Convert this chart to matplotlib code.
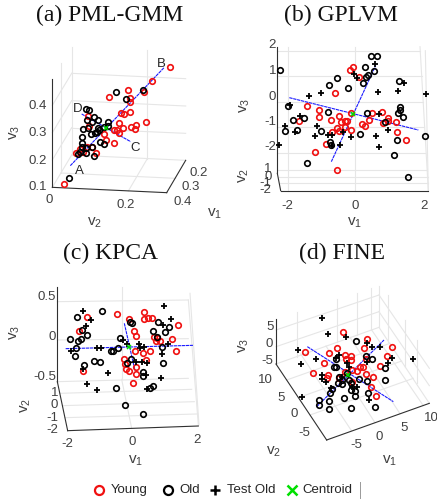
import matplotlib
matplotlib.use('Agg')
import matplotlib.pyplot as plt

plt.rcParams['font.family'] = ['Liberation Sans', 'DejaVu Sans']
plt.rcParams['mathtext.fontset'] = 'custom'
plt.rcParams['mathtext.rm'] = 'Liberation Sans'
plt.rcParams['mathtext.default'] = 'regular'

# all positions are view plane readings, in units of 1/3 pixel inside each panel
a_young = [(510,201),(457,244),(433,275),(383,270),(328,292),(391,295),(390,307),(389,337),(362,340),(372,342),(265,348),(439,367),(357,370),(409,376),(393,380),(405,387),(368,383),(352,390),(342,390),(357,398),(313,401),(317,419),(341,430),(228,460),(240,447),(262,440),(289,459),(267,378),(193,551),(250,455),(275,440)]
a_old = [(349,275),(430,270),(378,297),(258,327),(268,330),(281,351),(260,360),(295,360),(275,367),(323,366),(312,380),(323,378),(250,386),(265,385),(298,390),(290,397),(285,400),(272,402),(245,412),(245,430),(300,426),(311,433),(258,443),(275,442),(235,463),(258,458),(281,467),(208,533),(240,455),(247,440),(295,385)]
a_test = []
a_centroid = (318,385)
a_axes_blue = [[(211,497),(492,203)], [(245,342),(392,425)]]

b_young = [(398,200),(390,211),(417,232),(345,279),(262,318),(298,331),(297,352),(238,364),(333,361),(356,349),(364,366),(374,362),(381,364),(351,383),(374,380),(358,393),(335,396),(394,390),(393,340),(457,338),(487,336),(448,359),(425,373),(435,378),(489,370),(504,355),(504,363),(527,366),(530,396),(558,421),(318,433),(286,457),(352,509)]
b_old = [(181,211),(453,169),(471,169),(434,201),(461,214),(443,225),(437,232),(430,250),(351,235),(328,256),(385,265),(538,244),(205,317),(323,337),(220,360),(251,354),(195,394),(230,390),(304,394),(330,425),(332,436),(441,340),(540,320),(540,330),(533,338),(550,352),(495,367),(421,401),(531,420),(616,407),(523,465),(261,489),(563,532)]
b_test = [(465,191),(403,222),(410,235),(552,250),(535,274),(473,276),(617,283),(304,278),(266,287),(210,314),(240,348),(195,377),(224,397),(292,379),(285,407),(325,404),(337,405),(335,437),(361,434),(368,395),(394,412),(467,408),(477,441),(503,389),(476,343),(178,436)]
b_centroid = (400,341)
b_axes_blue = [[(208,293),(595,390)], [(334,485),(467,197)]]

c_young = [(262,230),(352,221),(387,237),(431,215),(431,236),(445,235),(457,235),(535,255),(401,272),(236,272),(408,287),(463,292),(467,303),(480,303),(517,297),(529,332),(405,334),(430,338),(449,334),(439,361),(372,356),(374,372),(378,386),(409,380),(388,393),(407,402),(398,429),(249,392),(470,295)]
c_old = [(307,212),(231,231),(246,270),(262,284),(244,296),(235,302),(211,297),(227,325),(225,348),(361,294),(333,333),(339,333),(354,324),(283,364),(300,365),(253,374),(396,249),(460,273),(496,276),(506,260),(475,245),(470,290),(485,320),(392,357),(489,369),(428,397),(429,409),(458,438),(449,443),(348,443),(376,494),(429,521),(391,247),(380,370)]
c_test = [(491,199),(249,214),(272,240),(258,257),(513,237),(490,256),(213,332),(290,323),(304,323),(370,300),(381,312),(417,312),(420,323),(432,321),(505,313),(485,342),(408,366),(425,365),(441,370),(325,400),(482,413),(438,405),(441,447),(260,431),(291,449),(250,386)]
c_centroid = (388,321)
c_axes_blue = [[(197,326),(580,316)], [(373,250),(405,392)]]

d_young = [(369,276),(442,296),(517,320),(432,325),(350,323),(328,338),(254,336),(375,345),(393,347),(379,358),(394,360),(437,358),(502,349),(312,369),(481,377),(420,382),(428,382),(411,392),(397,390),(375,395),(278,398),(323,404),(322,414),(358,415),(437,402),(458,411),(395,426),(453,441),(468,469)]
d_old = [(409,304),(437,348),(456,356),(347,358),(348,381),(343,380),(358,410),(380,398),(417,418),(440,423),(496,420),(494,384),(445,460),(404,453),(406,467),(393,451),(392,430),(372,473),(393,504),(464,502),(327,483),(327,506),(296,479),(298,496),(331,458),(337,448),(355,428),(365,420),(365,432),(388,420)]
d_test = [(307,234),(325,282),(378,290),(456,322),(480,322),(440,310),(233,331),(288,356),(243,372),(347,353),(356,345),(380,370),(388,380),(505,368),(515,355),(580,357),(305,405),(305,416),(318,426),(246,470),(332,445),(395,440),(410,440),(448,481),(365,410),(440,365)]
d_centroid = (385,405)
d_axes_blue = [[(262,320),(520,485)], [(290,500),(492,300)]]

# box edges and grid of each 3d view
a_dark = [[(157,237),(157,562)], [(157,562),(500,578)], [(500,578),(557,481)]]
a_grid = [[(215,140),(215,465)], [(183,190),(183,519)], [(442,150),(442,476)], [(157,562),(215,465)], [(215,465),(557,481)],
          [(215,220),(557,236)], [(215,302),(557,318)], [(215,385),(557,400)],
          [(157,480),(215,383)], [(157,398),(215,302)], [(157,316),(215,220)],
          [(385,573),(442,476)], [(183,519),(527,535)]]
b_dark = [[(172,140),(172,520)], [(172,520),(182,572)], [(182,572),(625,572)]]
b_grid = [[(172,152),(600,152)], [(172,228),(605,228)], [(172,305),(608,305)], [(172,382),(612,382)], [(172,458),(616,458)],
          [(203,140),(203,572)], [(405,140),(405,572)], [(600,140),(625,572)], [(616,152),(625,572)],
          [(175,510),(622,510)], [(177,530),(623,530)], [(180,550),(624,550)]]
c_dark = [[(172,140),(172,425)], [(172,425),(203,572)], [(203,572),(595,558)]]
c_grid = [[(172,185),(565,180)], [(172,300),(565,296)], [(172,425),(565,415)], [(365,140),(365,418)], [(570,160),(597,555)],
          [(565,180),(595,555)], [(180,460),(575,448)], [(188,497),(583,485)], [(195,533),(590,522)], [(365,418),(395,565)]]
d_dark = [[(168,238),(168,372)], [(168,372),(320,600)], [(320,600),(628,490)]]
d_grid = [[(168,372),(477,262)], [(477,138),(477,262)], [(477,262),(628,490)], [(477,165),(628,385)], [(477,215),(628,437)],
          [(230,215),(230,350)], [(350,178),(350,307)], [(412,160),(412,285)], [(453,145),(453,270)],
          [(168,270),(477,165)], [(168,320),(477,215)], [(200,420),(510,310)], [(235,473),(545,363)], [(270,525),(580,415)],
          [(395,573),(242,342)], [(465,548),(318,318)], [(540,521),(390,292)], [(610,497),(455,270)],
          [(505,165),(505,305)], [(555,240),(555,380)], [(590,300),(590,430)]]

a_ticks = [('0.4',142,318,'right'),('0.3',142,398,'right'),('0.2',142,482,'right'),('0.1',142,562,'right'),('0',148,600,'center'),('0.2',378,615,'center'),('0.2',595,520,'center'),('0.3',572,560,'center'),('0.4',548,605,'center')]
b_ticks = [('2',168,135,'right'),('1',168,212,'right'),('0',168,290,'right'),('-1',168,365,'right'),('-2',168,440,'right'),('1',155,507,'right'),('0',155,530,'right'),('-1',155,550,'right'),('-2',155,570,'right'),('-2',203,617,'center'),('0',405,617,'center'),('2',612,617,'center')]
c_ticks = [('0.5',168,170,'right'),('0',168,292,'right'),('-0.5',168,412,'right'),('1',175,460,'right'),('0',175,495,'right'),('-1',175,533,'right'),('-2',175,570,'right'),('-2',203,613,'center'),('0',396,607,'center'),('2',590,601,'center')]
d_ticks = [('5',160,262,'right'),('0',160,312,'right'),('-5',160,362,'right'),('10',137,420,'center'),('5',183,473,'center'),('0',222,523,'center'),('-5',252,578,'center'),('-5',408,615,'center'),('0',477,590,'center'),('5',551,563,'center'),('10',635,535,'center')]

a_labels = [('v$_1$',645,640,0),('v$_2$',285,668,0),('v$_3$',45,397,90)]
b_labels = [('v$_1$',405,668,0),('v$_2$',72,527,90),('v$_3$',75,315,90)]
c_labels = [('v$_1$',408,662,0),('v$_2$',78,497,90),('v$_3$',45,278,90)]
d_labels = [('v$_1$',510,662,0),('v$_2$',160,635,0),('v$_3$',72,315,90)]

W, H = 437, 504
panels = [
    dict(rect=(0,0,220,240), title='(a) PML-GMM', tpos=(330,47), young=a_young, old=a_old, test=a_test, cen=a_centroid, blue=a_axes_blue, dark=a_dark, grid=a_grid, ticks=a_ticks, labels=a_labels),
    dict(rect=(220,0,217,240), title='(b) GPLVM', tpos=(363,47), young=b_young, old=b_old, test=b_test, cen=b_centroid, blue=b_axes_blue, dark=b_dark, grid=b_grid, ticks=b_ticks, labels=b_labels),
    dict(rect=(0,240,220,264), title='(c) KPCA', tpos=(330,40), young=c_young, old=c_old, test=c_test, cen=c_centroid, blue=c_axes_blue, dark=c_dark, grid=c_grid, ticks=c_ticks, labels=c_labels),
    dict(rect=(220,240,217,264), title='(d) FINE', tpos=(365,40), young=d_young, old=d_old, test=d_test, cen=d_centroid, blue=d_axes_blue, dark=d_dark, grid=d_grid, ticks=d_ticks, labels=d_labels),
]

fig = plt.figure(figsize=(W/100, H/100), dpi=100)
axs = []
for p in panels:
    x, y, w, h = p['rect']
    ax = fig.add_axes([x/W, 1-(y+h)/H, w/W, h/H])
    ax.set_xlim(0, w*3)
    ax.set_ylim(h*3, 0)
    ax.axis('off')
    axs.append(ax)
    for s in p['grid']:
        ax.plot(*zip(*s), color='#e6e6e6', lw=0.8, zorder=1)
    for s in p['dark']:
        ax.plot(*zip(*s), color='#303030', lw=0.8, zorder=2)
    for s in p['blue']:
        ax.plot(*zip(*s), color='#1a1aff', lw=0.8, ls=(0, (3, 0.6)), zorder=3)
    ax.plot(*zip(*p['young']), ls='', marker='o', ms=4, mfc='none', mec='#f01010', mew=1.2, zorder=4)
    ax.plot(*zip(*p['old']), ls='', marker='o', ms=4, mfc='none', mec='black', mew=1.2, zorder=5)
    if p['test']:
        ax.plot(*zip(*p['test']), ls='', marker='+', ms=4.5, mec='black', mew=1.3, zorder=5)
    ax.plot(*p['cen'], marker='x', ms=3.5, mec='#00e000', mew=1.1, zorder=6)
    ax.text(*p['tpos'], p['title'], ha='center', va='center', fontsize=17, family=['Liberation Serif'], color='#111111')
    for t, tx, ty, ha in p['ticks']:
        ax.text(tx, ty, t, ha=ha, va='center', fontsize=9.5, color='#404040', clip_on=True)
    for t, tx, ty, rot in p['labels']:
        ax.text(tx, ty, t, ha='center', va='center', fontsize=11, color='#404040', rotation=rot)

for t, tx, ty in [('B',484,193), ('D',234,326), ('C',404,443), ('A',237,513)]:
    axs[0].text(tx, ty, t, ha='center', va='center', fontsize=9.5, color='#262626', zorder=7)

# legend runs along the bottom, across panels c and d
axc, axd = axs[2], axs[3]
axc.plot(298, 750, marker='o', ms=6.5, mfc='none', mec='#f01010', mew=1.6, clip_on=False)
axc.text(333, 750, 'Young', va='center', fontsize=9.5, color='#262626')
axc.plot(503, 750, marker='o', ms=6.5, mfc='none', mec='black', mew=1.6, clip_on=False)
axc.text(538, 750, 'Old', va='center', fontsize=9.5, color='#262626')
axc.plot(645, 750, marker='+', ms=7.5, mec='black', mew=1.8, clip_on=False)
axd.text(20, 750, 'Test Old', va='center', fontsize=9.5, color='#262626')
axd.plot(215, 750, marker='x', ms=7, mec='#00e000', mew=1.8, clip_on=False)
axd.text(248, 750, 'Centroid', va='center', fontsize=9.5, color='#262626')
axd.plot([421, 421], [725, 775], color='#999999', lw=0.7)

fig.savefig('out.png', dpi=100)
